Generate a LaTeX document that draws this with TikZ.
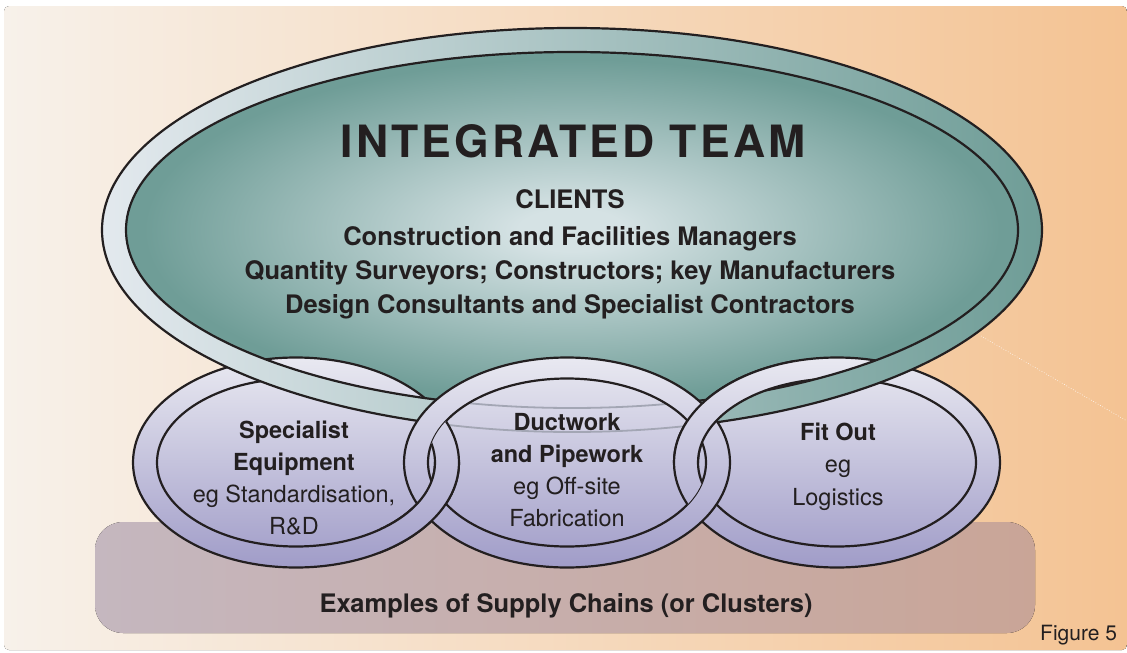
\documentclass[tikz,border=0pt]{standalone}
\usepackage{fontspec}
\setmainfont{TeX Gyre Heros}
\newfontfamily\spacedfont[LetterSpace=7]{TeX Gyre Heros}
\definecolor{Panelcream}{HTML}{F7F1EA}
\definecolor{Panelpeach}{HTML}{F4C393}
\definecolor{Trayleft}{HTML}{C5B7BF}
\definecolor{Trayright}{HTML}{C9A597}
\definecolor{Tealglow}{HTML}{D5E2E4}
\definecolor{Tealdeep}{HTML}{6F9D97}
\definecolor{Bandpale}{HTML}{E3E9EE}
\definecolor{Lavtop}{HTML}{E9E9F1}
\definecolor{Lavbottom}{HTML}{A09CC8}
\definecolor{Inkdark}{HTML}{231F20}
\definecolor{Traceline}{HTML}{A3A6B4}
\pgfdeclareradialshading{teamglow}{\pgfpointorigin}{color(0bp)=(Tealglow); color(3bp)=(Tealglow); color(24bp)=(Tealdeep); color(25bp)=(Tealdeep)}

\begin{document}
\begin{tikzpicture}[
  x=1pt,y=-1pt,
  edge/.style={draw=Inkdark,line width=2.2pt},
  linkshade/.style={top color=Lavtop,bottom color=Lavbottom},
  linkband/.style={linkshade,edge,even odd rule},
  trace/.style={draw=Traceline,line width=1.8pt},
  linktext/.style={text=Inkdark,font=\fontsize{23.5}{28}\selectfont,anchor=base,inner sep=0pt},
  teamtext/.style={text=Inkdark,font=\fontsize{25.5}{30}\selectfont\bfseries,anchor=base,inner sep=0pt}
]
  \def\ox{163pt}\def\oy{105pt}
  \def\ix{139pt}\def\iy{84pt}
  \useasboundingbox (0,0) rectangle (1127,653);

  % panel and the tray under the chain
  \fill[rounded corners=5pt,left color=Panelcream,right color=Panelpeach] (4,6) rectangle (1127,650);
  \coordinate (glintA) at (981,336);
  \coordinate (glintB) at (1127,421);
  \draw[white,dotted,line width=0.6pt] (glintA) -- (glintB);
  \fill[rounded corners=28pt,left color=Trayleft,right color=Trayright] (95,522) rectangle (1035,633);
  \node[teamtext] (tray) at (566,612) {Examples of Supply Chains (or Clusters)};
  \node[text=Inkdark,font=\fontsize{21}{24}\selectfont,anchor=base west,inner sep=0pt] (fig) at (1040,640) {Figure 5};

  \coordinate (team) at (572,230);
  \coordinate (spec) at (296,462.5);
  \coordinate (duct) at (567,462.5);
  \coordinate (fit) at (837,462.5);

  % inside of the big loop
  \path[shading=teamglow] (team) ellipse[x radius=446pt,y radius=178pt];

  % chain links, outer two first
  \foreach \c in {spec,duct,fit}
    \path[linkshade] (\c) ellipse[x radius=\ox,y radius=\oy];
  \foreach \c in {spec,fit}
    \path[linkband] (\c) ellipse[x radius=\ox,y radius=\oy] (\c) ellipse[x radius=\ix,y radius=\iy];

  % big loop band lies over both outer links
  \path[left color=Bandpale,right color=Tealdeep,edge,even odd rule]
    (team) ellipse[x radius=470pt,y radius=202pt] (team) ellipse[x radius=446pt,y radius=178pt];

  % middle link covers the band, band shows through faintly
  \path[linkshade] (duct) ellipse[x radius=\ox,y radius=\oy];
  \begin{scope}
    \clip (duct) ellipse[x radius=\ix,y radius=\iy];
    \draw[trace] (team) ellipse[x radius=470pt,y radius=202pt] (team) ellipse[x radius=446pt,y radius=178pt];
  \end{scope}
  \path[linkband] (duct) ellipse[x radius=\ox,y radius=\oy] (duct) ellipse[x radius=\ix,y radius=\iy];

  % weave the outer links back through the middle one
  \begin{scope}
    \clip (duct) ellipse[x radius=\ix,y radius=\iy];
    \foreach \c in {spec,fit}
      \path[linkband] (\c) ellipse[x radius=\ox,y radius=\oy] (\c) ellipse[x radius=\ix,y radius=\iy];
  \end{scope}
  \begin{scope}
    \clip (380,462.5) rectangle (500,600);
    \path[linkband] (spec) ellipse[x radius=\ox,y radius=\oy] (spec) ellipse[x radius=\ix,y radius=\iy];
  \end{scope}
  \begin{scope}
    \clip (640,300) rectangle (795,462.5);
    \path[linkband] (fit) ellipse[x radius=\ox,y radius=\oy] (fit) ellipse[x radius=\ix,y radius=\iy];
  \end{scope}

  % texts
  \node[text=Inkdark,font=\fontsize{44.5}{50}\spacedfont\bfseries,anchor=base,inner sep=0pt] (title) at (573,157) {INTEGRATED TEAM};
  \foreach \txt/\yy [count=\i] in {CLIENTS/208,Construction and Facilities Managers/245,Quantity Surveyors; Constructors; key Manufacturers/279,Design Consultants and Specialist Contractors/313}
    \node[teamtext] (team\i) at (570,\yy) {\txt};

  \foreach \txt [count=\i] in {\textbf{Specialist},\textbf{Equipment},{eg Standardisation,},R\&D}
    \node[linktext] (spec\i) at (294,438+32*\i-32) {\txt};
  \foreach \txt [count=\i] in {\textbf{Ductwork},\textbf{and Pipework},eg Off-site,Fabrication}
    \node[linktext] (duct\i) at (567,430+32.3*\i-32.3) {\txt};
  \foreach \txt [count=\i] in {\textbf{Fit Out},eg,Logistics}
    \node[linktext] (fit\i) at (838,440+32.5*\i-32.5) {\txt};
\end{tikzpicture}
\end{document}
